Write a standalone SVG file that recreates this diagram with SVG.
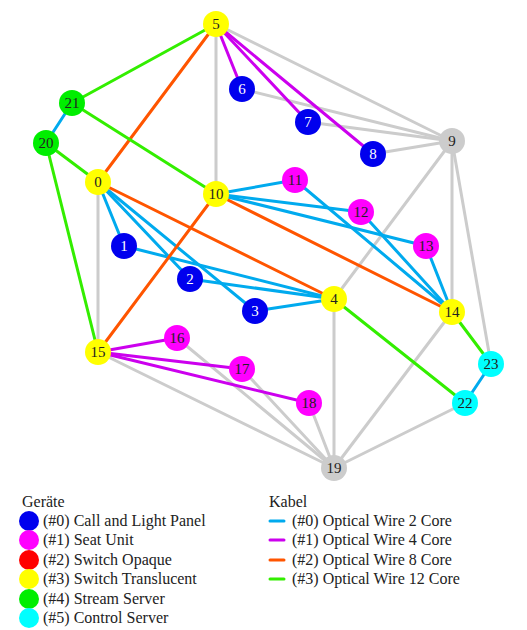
<svg xmlns="http://www.w3.org/2000/svg" width="527" height="630" viewBox="0 0 527 630" font-family="'Liberation Serif', serif">
<style>
.e{stroke-width:3;fill:none;stroke-linecap:round}
.g{stroke:#cccccc}.b{stroke:#00aaee}.m{stroke:#cc00ee}.o{stroke:#ff5500}.gr{stroke:#33ee00}
text{font-family:'Liberation Serif',serif;font-size:16px;fill:#222222}
.n text{text-anchor:middle;font-size:15px}
.n text.w{fill:#ffffff}
</style>
<rect width="527" height="630" fill="#ffffff"/>
<g id="connectors">
<line class="e g" x1="216" y1="24" x2="216" y2="194"/>
<line class="e g" x1="216" y1="24" x2="452" y2="141"/>
<line class="e g" x1="242" y1="89" x2="452" y2="141"/>
<line class="e g" x1="308" y1="122" x2="452" y2="141"/>
<line class="e g" x1="373" y1="154" x2="452" y2="141"/>
<line class="e g" x1="452" y1="141" x2="334" y2="299"/>
<line class="e g" x1="452" y1="141" x2="452" y2="312"/>
<line class="e g" x1="452" y1="141" x2="491" y2="364"/>
<line class="e g" x1="98" y1="182" x2="98" y2="352"/>
<line class="e g" x1="334" y1="299" x2="334" y2="468"/>
<line class="e g" x1="452" y1="312" x2="334" y2="468"/>
<line class="e g" x1="465" y1="403" x2="334" y2="468"/>
<line class="e g" x1="98" y1="352" x2="334" y2="468"/>
<line class="e g" x1="177" y1="338" x2="334" y2="468"/>
<line class="e g" x1="242" y1="369" x2="334" y2="468"/>
<line class="e g" x1="309" y1="403" x2="334" y2="468"/>
<line class="e b" x1="72" y1="103" x2="46" y2="143"/>
<line class="e b" x1="98" y1="182" x2="124" y2="246"/>
<line class="e b" x1="98" y1="182" x2="190" y2="279"/>
<line class="e b" x1="98" y1="182" x2="255" y2="311"/>
<line class="e b" x1="124" y1="246" x2="334" y2="299"/>
<line class="e b" x1="190" y1="279" x2="334" y2="299"/>
<line class="e b" x1="255" y1="311" x2="334" y2="299"/>
<line class="e b" x1="216" y1="194" x2="295" y2="180"/>
<line class="e b" x1="216" y1="194" x2="361" y2="212"/>
<line class="e b" x1="216" y1="194" x2="426" y2="246"/>
<line class="e b" x1="295" y1="180" x2="452" y2="312"/>
<line class="e b" x1="361" y1="212" x2="452" y2="312"/>
<line class="e b" x1="426" y1="246" x2="452" y2="312"/>
<line class="e b" x1="491" y1="364" x2="465" y2="403"/>
<line class="e m" x1="216" y1="24" x2="242" y2="89"/>
<line class="e m" x1="216" y1="24" x2="308" y2="122"/>
<line class="e m" x1="216" y1="24" x2="373" y2="154"/>
<line class="e m" x1="98" y1="352" x2="177" y2="338"/>
<line class="e m" x1="98" y1="352" x2="242" y2="369"/>
<line class="e m" x1="98" y1="352" x2="309" y2="403"/>
<line class="e o" x1="216" y1="24" x2="98" y2="182"/>
<line class="e o" x1="98" y1="182" x2="334" y2="299"/>
<line class="e o" x1="216" y1="194" x2="452" y2="312"/>
<line class="e o" x1="216" y1="194" x2="98" y2="352"/>
<line class="e gr" x1="216" y1="24" x2="72" y2="103"/>
<line class="e gr" x1="72" y1="103" x2="216" y2="194"/>
<line class="e gr" x1="46" y1="143" x2="98" y2="182"/>
<line class="e gr" x1="46" y1="143" x2="98" y2="352"/>
<line class="e gr" x1="334" y1="299" x2="465" y2="403"/>
<line class="e gr" x1="452" y1="312" x2="491" y2="364"/>
</g>
<g id="n0" class="n"><circle cx="98" cy="182" r="13" fill="#ffff00"/><text x="98" y="187">0</text></g>
<g id="n1" class="n"><circle cx="124" cy="246" r="13" fill="#0000ee"/><text class="w" x="124" y="251">1</text></g>
<g id="n2" class="n"><circle cx="190" cy="279" r="13" fill="#0000ee"/><text class="w" x="190" y="284">2</text></g>
<g id="n3" class="n"><circle cx="255" cy="311" r="13" fill="#0000ee"/><text class="w" x="255" y="316">3</text></g>
<g id="n4" class="n"><circle cx="334" cy="299" r="13" fill="#ffff00"/><text x="334" y="304">4</text></g>
<g id="n5" class="n"><circle cx="216" cy="24" r="13" fill="#ffff00"/><text x="216" y="29">5</text></g>
<g id="n6" class="n"><circle cx="242" cy="89" r="13" fill="#0000ee"/><text class="w" x="242" y="94">6</text></g>
<g id="n7" class="n"><circle cx="308" cy="122" r="13" fill="#0000ee"/><text class="w" x="308" y="127">7</text></g>
<g id="n8" class="n"><circle cx="373" cy="154" r="13" fill="#0000ee"/><text class="w" x="373" y="159">8</text></g>
<g id="n9" class="n"><circle cx="452" cy="141" r="13" fill="#cccccc"/><text x="452" y="146">9</text></g>
<g id="n10" class="n"><circle cx="216" cy="194" r="13" fill="#ffff00"/><text x="216" y="199">10</text></g>
<g id="n11" class="n"><circle cx="295" cy="180" r="13" fill="#ff00ff"/><text x="295" y="185">11</text></g>
<g id="n12" class="n"><circle cx="361" cy="212" r="13" fill="#ff00ff"/><text x="361" y="217">12</text></g>
<g id="n13" class="n"><circle cx="426" cy="246" r="13" fill="#ff00ff"/><text x="426" y="251">13</text></g>
<g id="n14" class="n"><circle cx="452" cy="312" r="13" fill="#ffff00"/><text x="452" y="317">14</text></g>
<g id="n15" class="n"><circle cx="98" cy="352" r="13" fill="#ffff00"/><text x="98" y="357">15</text></g>
<g id="n16" class="n"><circle cx="177" cy="338" r="13" fill="#ff00ff"/><text x="177" y="343">16</text></g>
<g id="n17" class="n"><circle cx="242" cy="369" r="13" fill="#ff00ff"/><text x="242" y="374">17</text></g>
<g id="n18" class="n"><circle cx="309" cy="403" r="13" fill="#ff00ff"/><text x="309" y="408">18</text></g>
<g id="n19" class="n"><circle cx="334" cy="468" r="13" fill="#cccccc"/><text x="334" y="473">19</text></g>
<g id="n20" class="n"><circle cx="46" cy="143" r="13" fill="#00ee00"/><text x="46" y="148">20</text></g>
<g id="n21" class="n"><circle cx="72" cy="103" r="13" fill="#00ee00"/><text x="72" y="108">21</text></g>
<g id="n22" class="n"><circle cx="465" cy="403" r="13" fill="#00ffff"/><text x="465" y="408">22</text></g>
<g id="n23" class="n"><circle cx="491" cy="364" r="13" fill="#00ffff"/><text x="491" y="369">23</text></g>
<g id="legend-devices">
<text x="22" y="507">Geräte</text>
<circle cx="29" cy="521" r="10" fill="#0000ee"/><text x="43" y="526">(#0) Call and Light Panel</text>
<circle cx="29" cy="540" r="10" fill="#ff00ff"/><text x="43" y="545">(#1) Seat Unit</text>
<circle cx="29" cy="560" r="10" fill="#ff0000"/><text x="43" y="565">(#2) Switch Opaque</text>
<circle cx="29" cy="579" r="10" fill="#ffff00"/><text x="43" y="584">(#3) Switch Translucent</text>
<circle cx="29" cy="599" r="10" fill="#00ee00"/><text x="43" y="604">(#4) Stream Server</text>
<circle cx="29" cy="618" r="10" fill="#00ffff"/><text x="43" y="623">(#5) Control Server</text>
</g>
<g id="legend-cables">
<text x="269" y="507">Kabel</text>
<line class="e b" x1="270" y1="521" x2="284" y2="521"/><text x="292" y="526">(#0) Optical Wire 2 Core</text>
<line class="e m" x1="270" y1="540" x2="284" y2="540"/><text x="292" y="545">(#1) Optical Wire 4 Core</text>
<line class="e o" x1="270" y1="560" x2="284" y2="560"/><text x="292" y="565">(#2) Optical Wire 8 Core</text>
<line class="e gr" x1="270" y1="579" x2="284" y2="579"/><text x="292" y="584">(#3) Optical Wire 12 Core</text>
</g>
</svg>
